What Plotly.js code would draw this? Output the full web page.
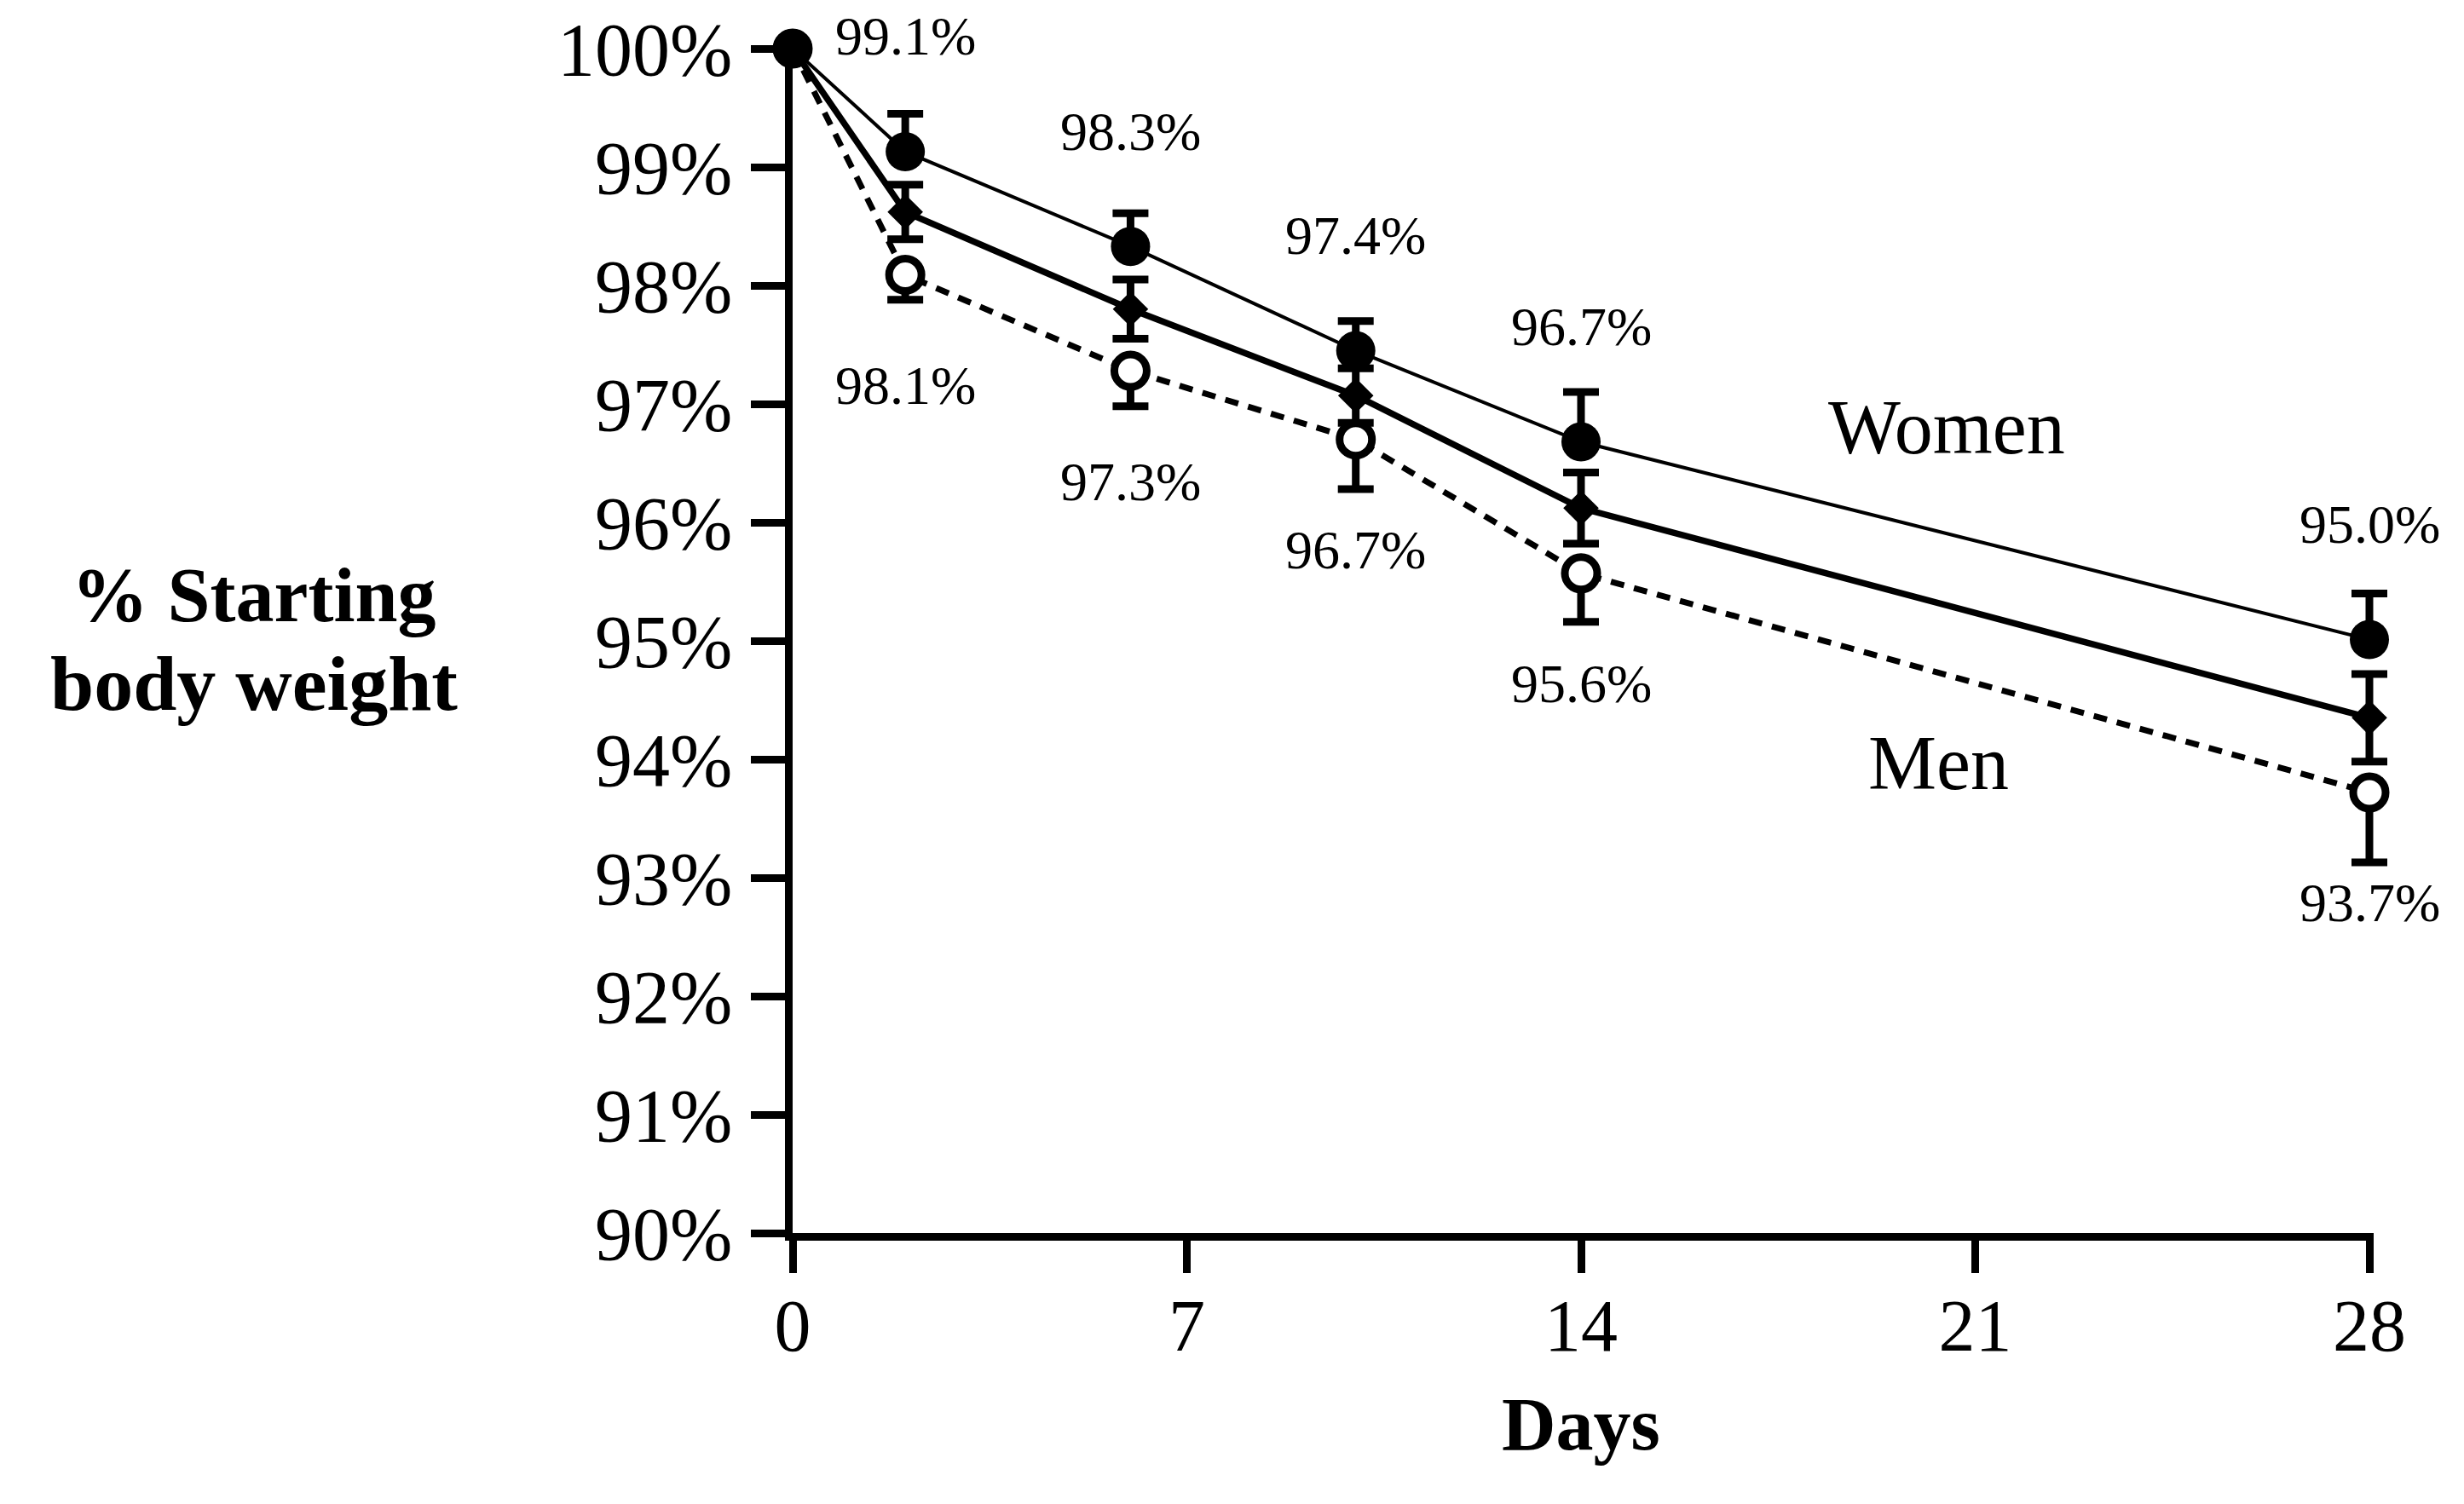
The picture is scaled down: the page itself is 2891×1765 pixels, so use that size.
<!DOCTYPE html>
<html>
<head>
<meta charset="utf-8">
<script src="https://cdn.plot.ly/plotly-3.0.1.min.js"></script>
<style>
  html, body { margin: 0; padding: 0; background: #ffffff; }
  #chart { width: 2891px; height: 1765px; }
</style>
</head>
<body>
<div id="chart"></div>
<script>
// ---- data ----
const days = [0, 2, 6, 10, 14, 28];

const womenValues = [100, 99.13, 98.33, 97.45, 96.68, 95.01];
const womenErrUp  = [0, 0.32, 0.28, 0.25, 0.42, 0.39];

const allValues   = [100, 98.62, 97.80, 97.07, 96.12, 94.35];
const allErr      = [0, 0.23, 0.25, 0.23, 0.30, 0.37];

const menValues   = [100, 98.09, 97.28, 96.70, 95.57, 93.72];
const menErrDown  = [0, 0.21, 0.30, 0.42, 0.41, 0.59];

const labelDays   = [2, 6, 10, 14, 28];
const womenLabels = ['99.1%', '98.3%', '97.4%', '96.7%', '95.0%'];
const menLabels   = ['98.1%', '97.3%', '96.7%', '95.6%', '93.7%'];

const xTickVals   = [0, 7, 14, 21, 28];
const yTickVals   = [90, 91, 92, 93, 94, 95, 96, 97, 98, 99, 100];
const yTickLabels = ['90%', '91%', '92%', '93%', '94%', '95%', '96%', '97%', '98%', '99%', '100%'];

const seriesNames = ['All', 'Men', 'Women'];
const womenText = 'Women';
const menText = 'Men';
const xTitle = 'Days';
const yTitleLines = ['% Starting', 'body weight'];

// ---- chart ----
const SERIF = 'Liberation Serif, Times New Roman, serif';
const zeros = days.map(() => 0);

// plot area extends a little past day 28 so the error-bar caps there are not clipped;
// the extra bit of x-axis line is masked with a white rectangle.
const W = 2891, H = 1765;
const M = { l: 930, r: 81, t: 57, b: 318 };
const lastDay = xTickVals[xTickVals.length - 1];
const pxPerDay = 1850 / lastDay;
const plotW = W - M.l - M.r;
const plotH = H - M.t - M.b;
const xEnd = plotW / pxPerDay;
const maskX0 = (lastDay + 5 / pxPerDay) / xEnd;

const traceAll = {
  x: days, y: allValues, name: seriesNames[0], type: 'scatter', mode: 'lines+markers',
  line: { color: '#000', width: 7.5 },
  marker: { symbol: 'diamond', size: 32, color: '#000', line: { width: 0 } },
  error_y: { type: 'data', symmetric: true, array: allErr, color: '#000', thickness: 9, width: 21 },
  cliponaxis: false, showlegend: false
};

const traceMen = {
  x: days, y: menValues, name: seriesNames[1], type: 'scatter', mode: 'lines+markers',
  line: { color: '#000', width: 7, dash: '16px,12px' },
  marker: { symbol: 'circle', size: 38, color: '#fff', line: { color: '#000', width: 9 } },
  error_y: { type: 'data', symmetric: false, array: zeros, arrayminus: menErrDown, color: '#000', thickness: 9, width: 21 },
  cliponaxis: false, showlegend: false
};

const traceWomen = {
  x: days, y: womenValues, name: seriesNames[2], type: 'scatter', mode: 'lines+markers',
  line: { color: '#000', width: 4 },
  marker: { symbol: 'circle', size: 46, color: '#000', line: { width: 0 } },
  error_y: { type: 'data', symmetric: false, array: womenErrUp, arrayminus: zeros, color: '#000', thickness: 9, width: 21 },
  cliponaxis: false, showlegend: false
};

const annotations = [];
labelDays.forEach((d, i) => {
  const idx = days.indexOf(d);
  annotations.push({
    x: d, y: womenValues[idx], xref: 'x', yref: 'y', text: womenLabels[i],
    showarrow: false, yshift: 135, xanchor: 'center', yanchor: 'middle',
    font: { family: SERIF, size: 64, color: '#000' }
  });
  annotations.push({
    x: d, y: menValues[idx], xref: 'x', yref: 'y', text: menLabels[i],
    showarrow: false, yshift: -130, xanchor: 'center', yanchor: 'middle',
    font: { family: SERIF, size: 64, color: '#000' }
  });
});
annotations.push({
  x: 20.5, y: 96.8, xref: 'x', yref: 'y', text: womenText, showarrow: false,
  xanchor: 'center', yanchor: 'middle', font: { family: SERIF, size: 90, color: '#000' }
});
annotations.push({
  x: 20.35, y: 93.97, xref: 'x', yref: 'y', text: menText, showarrow: false,
  xanchor: 'center', yanchor: 'middle', font: { family: SERIF, size: 90, color: '#000' }
});
// x-axis title, centred under the 0–28 day span
annotations.push({
  x: lastDay / 2, y: -(1671 - (M.t + plotH)) / plotH, xref: 'x', yref: 'paper',
  text: '<b>' + xTitle + '</b>', showarrow: false, xanchor: 'center', yanchor: 'middle',
  font: { family: SERIF, size: 88, color: '#000' }
});
// y-axis title (horizontal, two lines)
const titleCx = (298 - M.l) / plotW;
annotations.push({
  x: titleCx, y: 0.5383, xref: 'paper', yref: 'paper', text: '<b>' + yTitleLines[0] + '</b>', showarrow: false,
  xanchor: 'center', yanchor: 'middle', font: { family: SERIF, size: 90, color: '#000' }
});
annotations.push({
  x: titleCx, y: 0.4642, xref: 'paper', yref: 'paper', text: '<b>' + yTitleLines[1] + '</b>', showarrow: false,
  xanchor: 'center', yanchor: 'middle', font: { family: SERIF, size: 92, color: '#000' }
});

const layout = {
  width: W, height: H,
  paper_bgcolor: '#fff', plot_bgcolor: '#fff',
  margin: { l: M.l, r: M.r, t: M.t, b: M.b, pad: 0 },
  showlegend: false,
  xaxis: {
    range: [0, xEnd], tickvals: xTickVals, ticktext: xTickVals.map(String),
    ticks: 'outside', ticklen: 38, tickwidth: 9, tickcolor: '#000',
    showline: true, linewidth: 9, linecolor: '#000',
    showgrid: false, zeroline: false, ticklabelstandoff: -12,
    tickfont: { family: SERIF, size: 86, color: '#000' }
  },
  yaxis: {
    range: [90, 100], tickvals: yTickVals, ticktext: yTickLabels,
    ticks: 'outside', ticklen: 40, tickwidth: 9, tickcolor: '#000',
    showline: true, linewidth: 9, linecolor: '#000',
    showgrid: false, zeroline: false, ticklabelstandoff: 4,
    tickfont: { family: SERIF, size: 88, color: '#000' }
  },
  shapes: [{
    type: 'rect', xref: 'paper', yref: 'paper', layer: 'above',
    x0: maskX0, x1: 1.02, y0: -0.016, y1: 0.008,
    fillcolor: '#fff', line: { width: 0 }
  }],
  annotations: annotations
};

Plotly.newPlot('chart', [traceAll, traceMen, traceWomen], layout, { staticPlot: true, displayModeBar: false });
</script>
</body>
</html>
